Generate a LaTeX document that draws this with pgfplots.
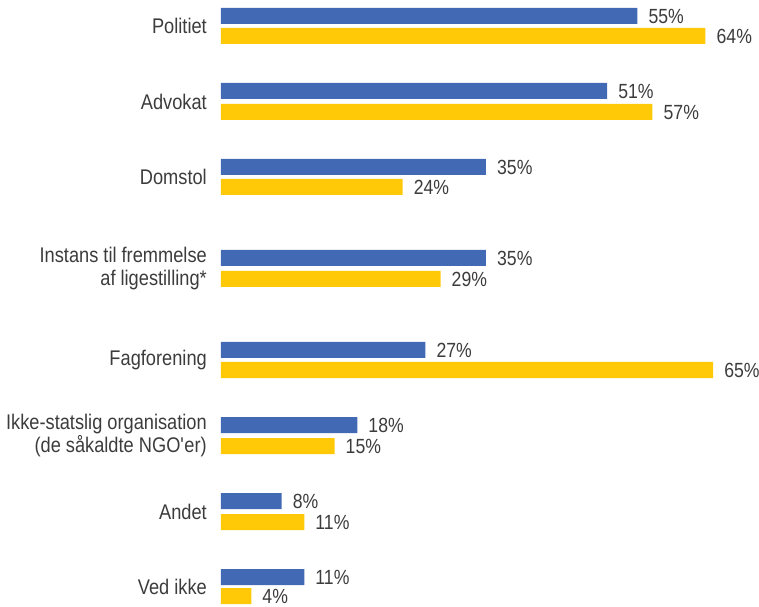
\documentclass[border=0pt]{standalone}
\usepackage{pgfplots}
\pgfplotsset{compat=1.18}
\usepackage{fontspec}
\setmainfont{Liberation Sans}[FakeStretch=0.86]
\definecolor{barblue}{HTML}{4169B4}
\definecolor{baryellow}{HTML}{FFC908}
\definecolor{txt}{HTML}{3C3C3C}
\begin{document}
\begin{tikzpicture}
\begin{axis}[
  name=ax,
  x=7.57pt, y=1pt,
  y dir=reverse,
  xmin=0, xmax=71.07, ymin=0, ymax=607,
  enlargelimits=false,
  axis line style={draw=none},
  major tick length=0pt,
  xtick=\empty,
  ytick={26,101.5,177,268.5,360,435.5,511.5,587},
  yticklabels={Politiet, Advokat, Domstol, {Instans til fremmelse\\af ligestilling*}, Fagforening, {Ikke-statslig organisation\\(de såkaldte NGO\textquotesingle er)}, Andet, Ved ikke},
  yticklabel style={font=\fontsize{21.2}{22.5}\selectfont, text=txt, align=right, anchor=east, inner sep=0pt, xshift=-14pt},
  xbar, bar width=16,
  bar shift=0pt,
  clip=false,
  nodes near coords={\pgfmathprintnumber[assume math mode=true]{\pgfplotspointmeta}\%},
  every node near coord/.append style={font=\fontsize{20.5}{22}\selectfont, text=txt, anchor=west, inner sep=0pt, xshift=11pt},
]
\addplot[draw=none, fill=barblue] coordinates {
  (55,16) (51,91) (35,167) (35,258) (27,350) (18,425) (8,501) (11,577)};
\addplot[draw=none, fill=baryellow] coordinates {
  (64,36) (57,112) (24,187) (29,279) (65,370) (15,446) (11,522) (4,596)};
\end{axis}
\pgfresetboundingbox
\path[use as bounding box] ([xshift=-221pt]ax.south west) rectangle (ax.north east);
\end{tikzpicture}
\end{document}
